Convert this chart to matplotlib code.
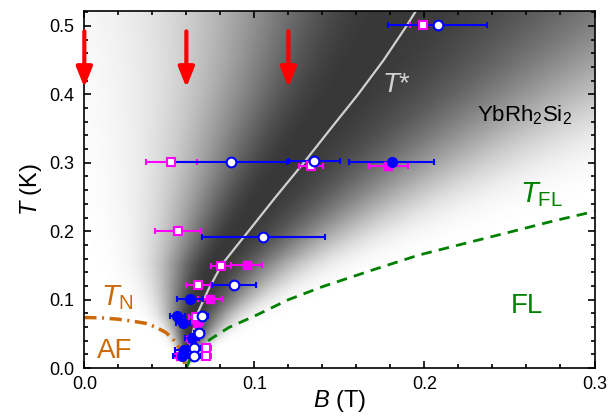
import numpy as np
import matplotlib
matplotlib.use("Agg")
import matplotlib.pyplot as plt

plt.rcParams['font.family'] = ['Liberation Sans', 'DejaVu Sans']
plt.rcParams['mathtext.fontset'] = 'custom'
plt.rcParams['mathtext.rm'] = 'Liberation Sans'
plt.rcParams['mathtext.it'] = 'Liberation Sans:italic'
plt.rcParams['mathtext.bf'] = 'Liberation Sans:bold'

# T* crossover line
tstar_B = [0.060, 0.062, 0.0661, 0.073, 0.0808, 0.0878, 0.0965, 0.1125, 0.129, 0.1446, 0.161, 0.176, 0.1895, 0.1955]
tstar_T = [0.0, 0.03, 0.0777, 0.115, 0.151, 0.173, 0.200, 0.250, 0.300, 0.349, 0.400, 0.450, 0.500, 0.524]

# T_FL line
tfl_B = [0.060, 0.062, 0.065, 0.0737, 0.085, 0.100, 0.120, 0.140, 0.170, 0.1964, 0.225, 0.249, 0.275, 0.300]
tfl_T = [0.0, 0.0132, 0.0228, 0.0416, 0.0595, 0.076, 0.100, 0.119, 0.1438, 0.165, 0.183, 0.198, 0.2145, 0.229]

# T_N line
tn_B = [0.0, 0.010, 0.020, 0.030, 0.036, 0.042, 0.048, 0.052, 0.055, 0.057, 0.0585, 0.060]
tn_T = [0.074, 0.0735, 0.0715, 0.068, 0.0655, 0.060, 0.052, 0.043, 0.033, 0.022, 0.011, 0.0]

# blue open circles: B, T, xerr
bo_B = [0.2077, 0.0863, 0.1351, 0.1053, 0.0882, 0.0690, 0.0676, 0.0647, 0.0647]
bo_T = [0.502, 0.301, 0.302, 0.191, 0.122, 0.076, 0.051, 0.029, 0.018]
bo_err = [0.029, 0.033, 0.015, 0.036, 0.013, 0.004, 0.003, 0.004, 0.004]

# blue filled circles
bf_B = [0.1808, 0.0622, 0.0547, 0.0582, 0.0632, 0.0586, 0.0573]
bf_T = [0.301, 0.101, 0.076, 0.066, 0.044, 0.026, 0.018]
bf_err = [0.025, 0.0075, 0.0045, 0.004, 0.004, 0.005, 0.005]

# magenta open squares
mo_B = [0.1994, 0.0510, 0.1332, 0.0549, 0.0802, 0.0671, 0.0655, 0.0716, 0.0716]
mo_T = [0.502, 0.301, 0.296, 0.201, 0.149, 0.121, 0.075, 0.029, 0.018]
mo_err = [0.008, 0.015, 0.007, 0.0135, 0.006, 0.0075, 0.004, 0.003, 0.003]

# magenta filled squares
mf_B = [0.1788, 0.0955, 0.0740, 0.0660, 0.0630, 0.0563]
mf_T = [0.296, 0.150, 0.101, 0.066, 0.042, 0.018]
mf_err = [0.0115, 0.009, 0.007, 0.004, 0.003, 0.003]

arrow_B = [0.0, 0.06, 0.12]

fig = plt.figure(figsize=(6.11, 4.16), dpi=100)
ax = fig.add_axes([0.138, 0.115, 0.835, 0.859])

# background shading of the crossover width
xs = np.linspace(0, 0.3, 600)
ys = np.linspace(0, 0.522, 500)
X, Y = np.meshgrid(xs, ys)
centre = np.interp(Y, tstar_T, tstar_B) - 0.035 * Y
sig = np.where(X < centre, 0.19 * Y, 0.27 * Y + 0.2 * Y ** 2) + 1e-6
shade = 1 - 0.78 * np.exp(-((X - centre) / sig) ** 2)
ax.imshow(shade, extent=[0, 0.3, 0, 0.522], origin='lower', cmap='gray',
          vmin=0, vmax=1, aspect='auto', interpolation='bilinear', zorder=0)

ax.plot(tstar_B, tstar_T, color='#d0d0d0', lw=1.6, zorder=1)
ax.plot(tfl_B, tfl_T, color='#008000', lw=2, dashes=(3.8, 2.6), zorder=1)
ax.plot(tn_B, tn_T, color='#cc6a0a', lw=2.5, dashes=(3.5, 1.6, 0.6, 1.6), zorder=1)

ekw = dict(elinewidth=1.5, capsize=2.5, capthick=1.5, linestyle='none', zorder=3)
ax.errorbar(mf_B, mf_T, xerr=mf_err, fmt='s', color='#ff00ff', ms=5.5,
            mfc='#ff00ff', mec='#ff00ff', **ekw)
ax.errorbar(mo_B, mo_T, xerr=mo_err, fmt='s', color='#ff00ff', ms=5.5,
            mfc='white', mec='#ff00ff', mew=1.5, **ekw)
ax.errorbar(bf_B, bf_T, xerr=bf_err, fmt='o', color='#0000ff', ms=7,
            mfc='#0000ff', mec='#0000ff', **ekw)
ax.errorbar(bo_B, bo_T, xerr=bo_err, fmt='o', color='#0000ff', ms=7,
            mfc='white', mec='#0000ff', mew=1.5, **ekw)

for b in arrow_B:
    ax.annotate('', xy=(b, 0.41), xytext=(b, 0.492),
                arrowprops=dict(arrowstyle='-|>,head_width=0.32,head_length=0.8',
                                color='red', lw=3, mutation_scale=15,
                                shrinkA=0, shrinkB=0), zorder=4)

ax.text(0.175, 0.403, r'$T$*', color='#d0d0d0', fontsize=20)
ax.text(0.231, 0.36, r'YbRh$_2$Si$_2$', color='black', fontsize=16)
ax.text(0.2563, 0.2424, r'$T_{\rm FL}$', color='#008000', fontsize=21)
ax.text(0.2508, 0.0802, 'FL', color='#008000', fontsize=20)
ax.text(0.010, 0.0924, r'$T_{\rm N}$', color='#cc6a0a', fontsize=21)
ax.text(0.0073, 0.0142, 'AF', color='#cc6a0a', fontsize=20)

ax.set_xlim(0, 0.3)
ax.set_ylim(0, 0.522)
ax.set_xticks([0.0, 0.1, 0.2, 0.3])
ax.set_yticks([0.0, 0.1, 0.2, 0.3, 0.4, 0.5])
ax.set_xticks(np.arange(0, 0.301, 0.02), minor=True)
ax.set_yticks(np.arange(0, 0.521, 0.02), minor=True)
ax.xaxis.set_major_formatter(matplotlib.ticker.FormatStrFormatter('%.1f'))
ax.yaxis.set_major_formatter(matplotlib.ticker.FormatStrFormatter('%.1f'))
ax.tick_params(which='both', direction='in', top=True, right=True, width=1.2,
               labelsize=13)
ax.tick_params(which='major', length=5)
ax.tick_params(which='minor', length=3)
ax.tick_params(axis='x', which='major', pad=6)
ax.tick_params(axis='y', which='major', pad=7)
for s in ax.spines.values():
    s.set_linewidth(1.2)

ax.set_xlabel(r'$B$ (T)', fontsize=17, labelpad=-4)
ax.set_ylabel(r'$T$ (K)', fontsize=17, labelpad=4)

fig.savefig('out.png', dpi=100)
